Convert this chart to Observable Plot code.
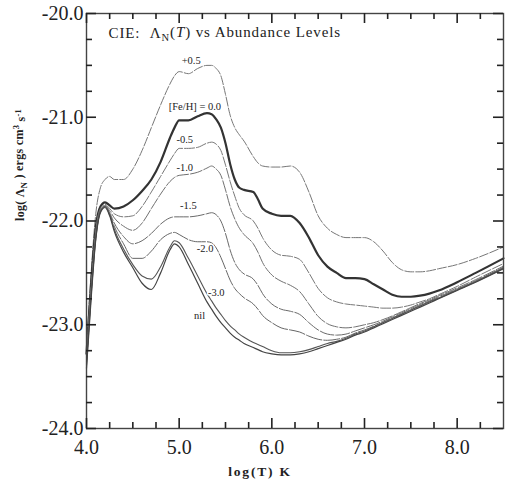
<!DOCTYPE html>
<html><head><meta charset="utf-8">
<script src="https://cdn.jsdelivr.net/npm/d3@7"></script>
<script src="https://cdn.jsdelivr.net/npm/@observablehq/plot@0.6"></script>
<style>body{margin:0;background:#fff}svg{display:block}</style>
</head><body><div id="chart"></div>
<script>
// log(T) grid
const logT = [4.0,4.05,4.1,4.15,4.2,4.25,4.3,4.4,4.5,4.6,4.7,4.8,4.9,4.95,5.0,5.1,5.2,5.3,5.35,5.4,5.45,5.5,5.55,5.6,5.65,5.7,5.8,5.85,5.9,6.0,6.1,6.2,6.3,6.4,6.5,6.6,6.7,6.8,6.9,7.0,7.1,7.2,7.3,7.4,7.5,7.6,7.7,7.8,8.0,8.2,8.5];

// log(Lambda_N) for each abundance level
const fePlus05 = [-23.22,-22.50,-21.93,-21.68,-21.60,-21.57,-21.60, -21.60,-21.50,-21.32,-21.10,-20.88,-20.68, -20.60,-20.56, -20.58,-20.53,-20.50,-20.50,-20.53,-20.60,-20.78,-20.98,-21.10,-21.17,-21.23, -21.38,-21.44,-21.47, -21.48,-21.48,-21.47,-21.53,-21.72,-21.95,-22.07,-22.13,-22.16,-22.16,-22.16,-22.20,-22.29,-22.40,-22.47,-22.49,-22.49,-22.48,-22.46, -22.42,-22.36,-22.25];
const feSolar = [-23.28,-22.60,-22.06,-21.86,-21.82,-21.85,-21.88, -21.86,-21.80,-21.71,-21.60,-21.43,-21.20, -21.10,-21.03, -21.03,-20.99,-20.96,-20.97,-21.02,-21.10,-21.25,-21.45,-21.60,-21.68,-21.70, -21.72,-21.79,-21.88, -21.93,-21.95,-21.95,-22.02,-22.16,-22.33,-22.44,-22.50,-22.55,-22.55,-22.56,-22.61,-22.66,-22.71,-22.73,-22.73,-22.72,-22.70,-22.67, -22.59,-22.50,-22.36];
const feMinus05 = [-23.31,-22.64,-22.10,-21.88,-21.84,-21.88,-21.93, -21.96,-21.95,-21.86,-21.72,-21.57,-21.42, -21.35,-21.30, -21.30,-21.29,-21.25,-21.24,-21.26,-21.32,-21.46,-21.62,-21.76,-21.88,-21.94, -22.00,-22.07,-22.16, -22.28,-22.33,-22.34,-22.37,-22.50,-22.65,-22.74,-22.78,-22.80,-22.81,-22.82,-22.83,-22.84,-22.84,-22.83,-22.81,-22.78,-22.75,-22.71, -22.63,-22.54,-22.41];
const feMinus10 = [-23.33,-22.66,-22.12,-21.89,-21.85,-21.90,-21.97, -22.05,-22.09,-22.02,-21.88,-21.74,-21.62, -21.58,-21.56, -21.55,-21.53,-21.49,-21.47,-21.50,-21.56,-21.70,-21.86,-21.98,-22.07,-22.13, -22.22,-22.30,-22.40, -22.52,-22.58,-22.62,-22.68,-22.80,-22.92,-22.99,-23.02,-23.03,-23.02,-23.00,-22.98,-22.95,-22.915,-22.875,-22.835,-22.795,-22.76,-22.72, -22.645,-22.565,-22.435];
const feMinus15 = [-23.35,-22.68,-22.14,-21.90,-21.86,-21.92,-22.02, -22.15,-22.22,-22.19,-22.12,-22.03,-21.97, -21.96,-21.96, -21.96,-21.95,-21.93,-21.92,-21.94,-22.00,-22.12,-22.28,-22.40,-22.47,-22.51, -22.56,-22.62,-22.70, -22.80,-22.85,-22.87,-22.90,-22.98,-23.05,-23.09,-23.10,-23.09,-23.06,-23.03,-23.00,-22.965,-22.925,-22.885,-22.845,-22.805,-22.77,-22.73, -22.655,-22.575,-22.445];
const feMinus20 = [-23.37,-22.70,-22.16,-21.91,-21.86,-21.93,-22.05, -22.22,-22.36,-22.36,-22.29,-22.18,-22.12, -22.11,-22.13, -22.18,-22.20,-22.20,-22.21,-22.26,-22.35,-22.46,-22.57,-22.65,-22.70,-22.74, -22.80,-22.85,-22.91, -22.98,-23.03,-23.05,-23.07,-23.11,-23.14,-23.15,-23.14,-23.12,-23.08,-23.05,-23.015,-22.975,-22.935,-22.895,-22.855,-22.815,-22.775,-22.74, -22.66,-22.58,-22.45];
const feMinus30 = [-23.39,-22.72,-22.17,-21.91,-21.86,-21.94,-22.08, -22.27,-22.42,-22.53,-22.56,-22.44,-22.25, -22.19,-22.21, -22.36,-22.53,-22.70,-22.77,-22.84,-22.90,-22.96,-23.01,-23.05,-23.09,-23.12, -23.17,-23.19,-23.21, -23.25,-23.27,-23.27,-23.26,-23.24,-23.21,-23.18,-23.16,-23.13,-23.09,-23.06,-23.02,-22.98,-22.94,-22.90,-22.86,-22.82,-22.78,-22.745, -22.665,-22.585,-22.455];
const feNil = [-23.42,-22.75,-22.18,-21.92,-21.87,-21.95,-22.10, -22.30,-22.45,-22.60,-22.66,-22.50,-22.28, -22.22,-22.25, -22.42,-22.60,-22.78,-22.85,-22.92,-22.98,-23.03,-23.08,-23.12,-23.15,-23.18, -23.22,-23.24,-23.26, -23.28,-23.29,-23.29,-23.28,-23.26,-23.23,-23.20,-23.17,-23.14,-23.10,-23.07,-23.03,-22.99,-22.95,-22.91,-22.87,-22.83,-22.79,-22.75, -22.67,-22.59,-22.46];

const seriesNames = ["+0.5","0.0","-0.5","-1.0","-1.5","-2.0","-3.0","nil"];
const seriesValues = [fePlus05, feSolar, feMinus05, feMinus10, feMinus15, feMinus20, feMinus30, feNil];

// curve labels
const labelText = ["+0.5","[Fe/H] = 0.0","-0.5","-1.0","-1.5","-2.0","-3.0","nil"];
const labelLogT = [5.13, 5.17, 5.06, 5.06, 5.10, 5.28, 5.40, 5.22];
const labelLogL = [-20.45, -20.90, -21.22, -21.49, -21.85, -22.27, -22.69, -22.91];

// ticks
const xMajor = [4, 5, 6, 7, 8];
const xMinor = [4.25,4.5,4.75,5.25,5.5,5.75,6.25,6.5,6.75,7.25,7.5,7.75,8.25];
const yMajor = [-24, -23, -22, -21, -20];
const yMinor = [-23.75,-23.5,-23.25,-22.75,-22.5,-22.25,-21.75,-21.5,-21.25,-20.75,-20.5,-20.25];

const TITLE = "CIE: ΛN(T) vs Abundance Levels";
const XLABEL = "log(T) K";
const YLABEL = "log( ΛN ) ergs cm3 s-1";

const rows = [];
seriesNames.forEach((s, i) => logT.forEach((t, j) => rows.push({series: s, logT: t, value: seriesValues[i][j]})));
const labels = labelText.map((t, i) => ({t, x: labelLogT[i], y: labelLogL[i]}));

const W = 505, H = 487, ML = 86, MR = 2, MT = 13, MB = 59;
const PW = W - ML - MR, PH = H - MT - MB;
const xDom = [4, 8.5], yDom = [-24, -20];
// tick lengths (px) expressed in data units
const kx = (xDom[1] - xDom[0]) / PW, ky = (yDom[1] - yDom[0]) / PH;
const MAJ = 10, MIN = 6;
const SERIF = "'Liberation Serif','Times New Roman',Times,serif";

const lineStyle = {
  "+0.5": {stroke: "#777", strokeWidth: 1, strokeDasharray: "9,2"},
  "0.0":  {stroke: "#333", strokeWidth: 2.2},
  "-0.5": {stroke: "#777", strokeWidth: 1, strokeDasharray: "10,2"},
  "-1.0": {stroke: "#707070", strokeWidth: 1, strokeDasharray: "12,2"},
  "-1.5": {stroke: "#6a6a6a", strokeWidth: 1, strokeDasharray: "14,2"},
  "-2.0": {stroke: "#666", strokeWidth: 1, strokeDasharray: "16,2"},
  "-3.0": {stroke: "#555", strokeWidth: 1.1},
  "nil":  {stroke: "#444", strokeWidth: 1.2}
};

const tk = {stroke: "#222", strokeWidth: 1.6};

const plot = Plot.plot({
  width: W, height: H,
  marginLeft: ML, marginRight: MR, marginTop: MT, marginBottom: MB,
  x: {domain: xDom},
  y: {domain: yDom},
  style: {fontFamily: SERIF, background: "white", color: "#222"},
  marks: [
    ...seriesNames.map(s => Plot.line(rows.filter(r => r.series === s), {x: "logT", y: "value", curve: "monotone-x", ...lineStyle[s]})),
    Plot.text(labels, {x: "x", y: "y", text: "t", fontSize: 10.5, fontFamily: SERIF, fill: "#222", stroke: "white", strokeWidth: 3, paintOrder: "stroke"}),
    Plot.frame({stroke: "#444", strokeWidth: 1.4}),
    Plot.axisY({ticks: yMajor, anchor: "left", tickSize: 0, tickPadding: 3, fontSize: 20, fontFamily: SERIF, tickFormat: d => d.toFixed(1), label: null}),
    Plot.axisX({ticks: xMajor, anchor: "bottom", tickSize: 0, tickPadding: 11, fontSize: 20, fontFamily: SERIF, tickFormat: d => d.toFixed(1), label: null}),
    Plot.text([TITLE], {frameAnchor: "top-left", dx: 22, dy: 20, textAnchor: "start", lineAnchor: "middle", fontSize: 15, fontFamily: SERIF, fill: "#222"}),
    Plot.text([XLABEL], {frameAnchor: "bottom", dx: -35, dy: 43, lineAnchor: "middle", fontSize: 13.5, fontFamily: SERIF, fontWeight: "bold", fill: "#222"}),
    Plot.text([YLABEL], {frameAnchor: "left", dx: -66, rotate: -90, lineAnchor: "middle", fontSize: 12, fontFamily: SERIF, fontWeight: "bold", fill: "#222"}),
    // inward ticks on all four sides (drawn last, on top)
    Plot.ruleY(yMajor, {y: d => d, x1: xDom[0], x2: xDom[0] + MAJ * kx, ...tk}),
    Plot.ruleY(yMinor, {y: d => d, x1: xDom[0], x2: xDom[0] + MIN * kx, ...tk}),
    Plot.ruleY(yMajor, {y: d => d, x1: xDom[1] - MAJ * kx, x2: xDom[1], ...tk}),
    Plot.ruleY(yMinor, {y: d => d, x1: xDom[1] - MIN * kx, x2: xDom[1], ...tk}),
    Plot.ruleX(xMajor, {x: d => d, y1: yDom[0], y2: yDom[0] + MAJ * ky, ...tk}),
    Plot.ruleX(xMinor, {x: d => d, y1: yDom[0], y2: yDom[0] + MIN * ky, ...tk}),
    Plot.ruleX(xMajor, {x: d => d, y1: yDom[1] - MAJ * ky, y2: yDom[1], ...tk}),
    Plot.ruleX(xMinor, {x: d => d, y1: yDom[1] - MIN * ky, y2: yDom[1], ...tk})
  ]
});

d3.select(plot).selectAll("text").each(function() {
  const el = d3.select(this);
  const t = this.textContent;
  if (t === TITLE) {
    el.text(null).style("letter-spacing", "0.9px");
    el.append("tspan").text("CIE:\u00a0\u00a0Λ");
    el.append("tspan").attr("font-size", "0.7em").attr("dy", "0.3em").text("N");
    el.append("tspan").attr("dy", "-0.3em").text("(");
    el.append("tspan").attr("font-style", "italic").text("T");
    el.append("tspan").text(") vs Abundance Levels");
  } else if (t === YLABEL) {
    el.text(null).style("letter-spacing", "0.3px");
    el.append("tspan").text("log( Λ");
    el.append("tspan").attr("font-size", "0.7em").attr("dy", "0.3em").text("N");
    el.append("tspan").attr("dy", "-0.3em").text(" ) ergs cm");
    el.append("tspan").attr("font-size", "0.7em").attr("dy", "-0.45em").text("3");
    el.append("tspan").attr("dy", "0.45em").text(" s");
    el.append("tspan").attr("font-size", "0.7em").attr("dy", "-0.45em").text("-1");
  } else if (t === XLABEL) {
    el.style("letter-spacing", "1.8px");
  }
});

document.getElementById("chart").appendChild(plot);
</script>
</body></html>
